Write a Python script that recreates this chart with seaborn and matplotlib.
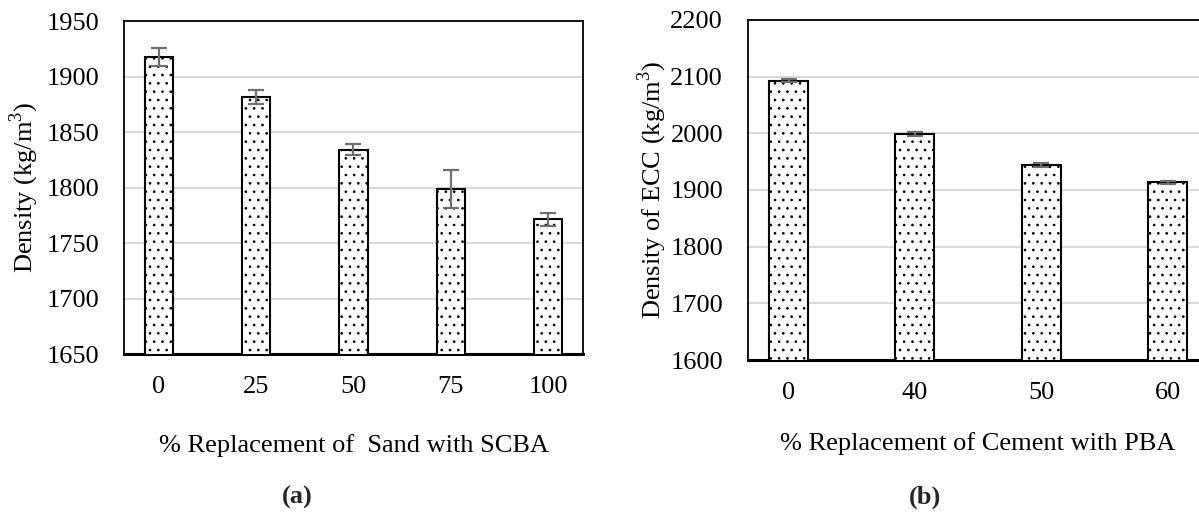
import numpy as np
import pandas as pd
import matplotlib
matplotlib.use("Agg")
import matplotlib.pyplot as plt
import seaborn as sns

# panel (a): sand replaced with SCBA
sand_pct   = ["0", "25", "50", "75", "100"]
sand_dens  = [1917.5, 1881.5, 1834, 1798.5, 1771.5]
sand_err   = [8, 6.5, 5, 17, 6]

# panel (b): cement replaced with PBA
cem_pct    = ["0", "40", "50", "60"]
cem_dens   = [2093, 1999, 1944, 1913.5]
cem_err    = [3, 3, 3, 3]

GRID = "#d9d9d9"
ERR  = "#6e6e6e"

sns.set_theme(style="white")
plt.rcParams["font.family"] = ["Liberation Serif", "DejaVu Serif"]
plt.rcParams["mathtext.fontset"] = "custom"
plt.rcParams["mathtext.rm"] = "Liberation Serif"
plt.rcParams["hatch.linewidth"] = 0.7
plt.rcParams["hatch.color"] = "black"

FS = 19


def draw_panel(ax, cats, vals, errs, ylim, step, ylabel, xlabel, width,
               xpad, ypad):
    df = pd.DataFrame({"pct": cats, "dens": vals})
    sns.barplot(data=df, x="pct", y="dens", ax=ax, color="white",
                edgecolor="black", linewidth=1.5, width=width,
                errorbar=None, hatch="..", zorder=3)
    ax.errorbar(np.arange(len(cats)), vals, yerr=errs, fmt="none",
                ecolor=ERR, elinewidth=1.6, capsize=6, capthick=1.6,
                zorder=4)
    ax.set_ylim(*ylim)
    ax.set_yticks(np.arange(ylim[0], ylim[1] + 1, step))
    ax.yaxis.grid(True, color=GRID, lw=1.5, zorder=0)
    ax.set_axisbelow(True)
    for sp in ax.spines.values():
        sp.set_edgecolor("black")
        sp.set_linewidth(1.3)
    ax.spines["bottom"].set_linewidth(2.2)
    ax.tick_params(axis="y", labelsize=FS, pad=18, length=0, colors="black")
    ax.tick_params(axis="x", labelsize=FS, pad=16, length=0, colors="black")
    ax.set_ylabel(ylabel, fontsize=FS, labelpad=ypad, color="black")
    ax.set_xlabel(xlabel, fontsize=FS, labelpad=xpad, color="black")


fig = plt.figure(figsize=(11.99, 5.13), dpi=100, facecolor="white")
ax1 = fig.add_axes([0.1034, 0.3099, 0.3828, 0.649])
ax2 = fig.add_axes([0.6239, 0.2982, 0.3837, 0.663])

draw_panel(ax1, sand_pct, sand_dens, sand_err, (1650, 1950), 50,
           r"Density (kg/m$^\mathregular{3}$)",
           "% Replacement of  Sand with SCBA", 0.29, 26, 4)
draw_panel(ax2, cem_pct, cem_dens, cem_err, (1600, 2200), 100,
           r"Density of ECC (kg/m$^\mathregular{3}$)",
           "% Replacement of Cement with PBA", 0.31, 20, 1)

fig.text(297 / 1199, 1 - 497 / 513, "(a)", fontsize=FS, fontweight="bold",
         ha="center", va="center")
fig.text(925 / 1199, 1 - 497 / 513, "(b)", fontsize=FS, fontweight="bold",
         ha="center", va="center")

fig.savefig("out.png", dpi=100, facecolor="white")
plt.close(fig)
